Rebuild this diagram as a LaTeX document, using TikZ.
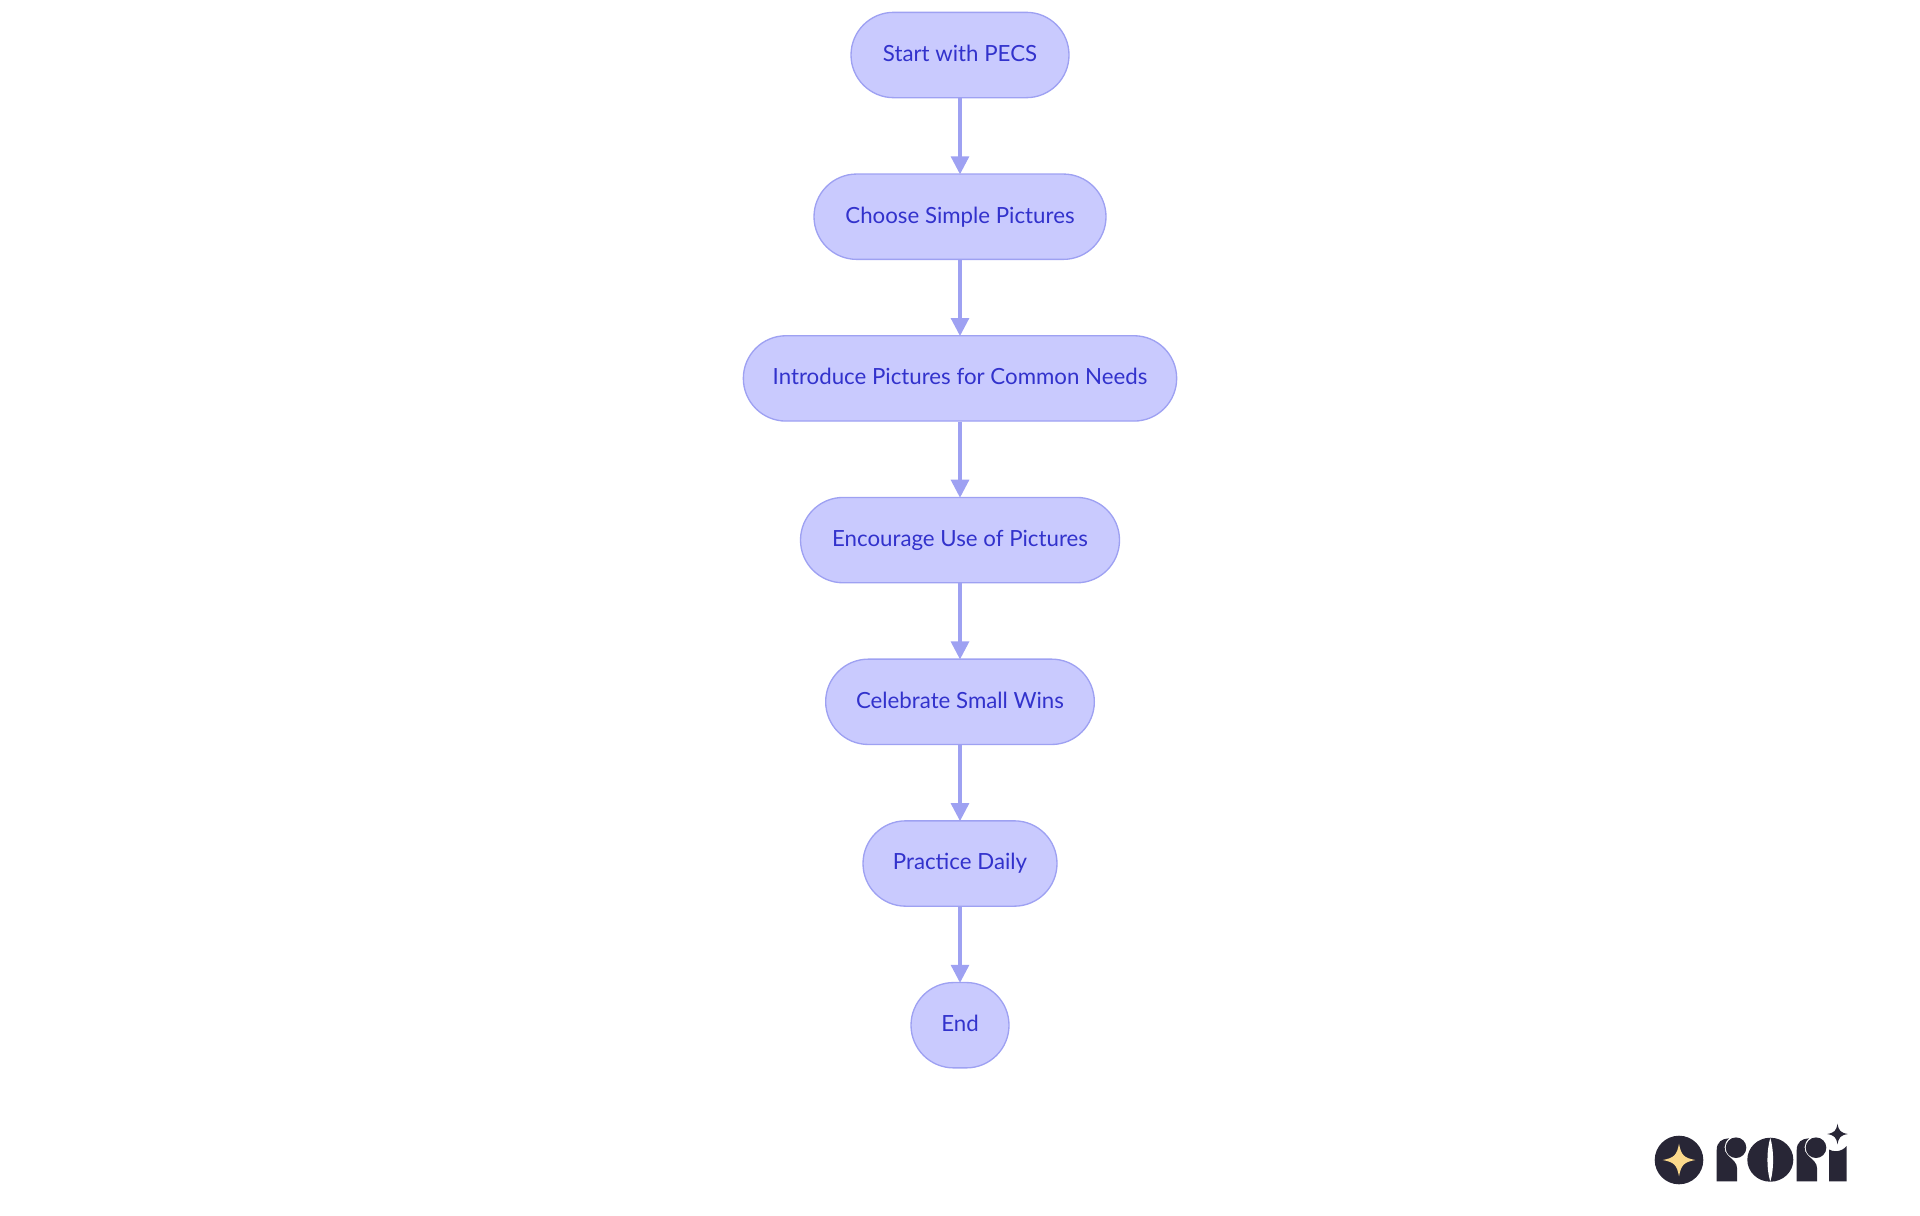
\documentclass[tikz,border=0pt]{standalone}
\usepackage{fontspec}
\setmainfont{Lato}
\usetikzlibrary{arrows.meta}
\definecolor{nodefill}{HTML}{C9CAFE}
\definecolor{nodeline}{HTML}{9EA1F2}
\definecolor{nodetext}{HTML}{3232CC}
\definecolor{logodark}{HTML}{282636}
\definecolor{logostar}{HTML}{FBD98B}
\tikzset{
  flownode/.style={draw=nodeline,fill=nodefill,text=nodetext,line width=1pt,rounded corners=32pt,
    minimum height=64pt,inner sep=0pt,text height=13.2pt,text depth=3.5pt,font=\fontsize{16.7}{20}\selectfont},
  flowarrow/.style={draw=nodeline,line width=2.3pt,-{Triangle[width=13.5pt,length=13.5pt,fill=nodeline]},shorten >=-0.7pt}
}
\newcommand{\fourstar}[4]{\fill[#4] (#1,#2-#3) .. controls (#1+0.13*#3,#2-0.3*#3) and (#1+0.3*#3,#2-0.13*#3) .. (#1+#3,#2) .. controls (#1+0.3*#3,#2+0.13*#3) and (#1+0.13*#3,#2+0.3*#3) .. (#1,#2+#3) .. controls (#1-0.13*#3,#2+0.3*#3) and (#1-0.3*#3,#2+0.13*#3) .. (#1-#3,#2) .. controls (#1-0.3*#3,#2-0.13*#3) and (#1-0.13*#3,#2-0.3*#3) .. (#1,#2-#3) -- cycle;}
\newcommand{\logor}[1]{
  \fill[logodark,shift={(#1,0)}] (1716.7,1181.3) -- (1716.7,1150) .. controls (1716.7,1142) and (1722,1138.5) .. (1729,1138.3) .. controls (1723.5,1143) and (1723,1151) .. (1728,1155.5) .. controls (1733,1160) and (1737,1163) .. (1737,1168) -- (1737,1181.3) -- cycle;
  \fill[logodark] (1736+#1,1147.7) circle (10.3);
}
\begin{document}
\begin{tikzpicture}[x=0.75pt,y=-0.75pt]
\useasboundingbox (0,0) rectangle (1920,1215);
\node[flownode,minimum width=163.5pt] (a) at (960,55) {Start with PECS};
\node[flownode,minimum width=219pt] (b) at (960,216.7) {Choose Simple Pictures};
\node[flownode,minimum width=325pt] (c) at (960,378.4) {Introduce Pictures for Common Needs};
\node[flownode,minimum width=239.25pt] (d) at (960,540.1) {Encourage Use of Pictures};
\node[flownode,minimum width=201.5pt] (e) at (960,701.8) {Celebrate Small Wins};
\node[flownode,minimum width=145.5pt] (f) at (960,863.5) {Practice Daily};
\node[flownode,minimum width=73.5pt] (g) at (960,1025.2) {End};
\draw[flowarrow] (a) -- (b);
\draw[flowarrow] (b) -- (c);
\draw[flowarrow] (c) -- (d);
\draw[flowarrow] (d) -- (e);
\draw[flowarrow] (e) -- (f);
\draw[flowarrow] (f) -- (g);
% logo
\fill[logodark] (1679,1160) circle (24.3);
\fourstar{1679}{1160}{16.3}{logostar}
\logor{0}
\logor{80}
\fill[logodark] (1770.3,1159.7) ellipse (23 and 22);
\fill[white] (1770.3,1138) .. controls (1766.5,1150) and (1766.5,1170) .. (1770.3,1181.5) .. controls (1774,1170) and (1774,1150) .. (1770.3,1138) -- cycle;
\fill[logodark] (1829,1181.3) -- (1829,1149.5) .. controls (1833,1152) and (1841,1152.5) .. (1846.7,1146) -- (1846.7,1181.3) -- cycle;
\fourstar{1837.5}{1134}{10.3}{logodark}
\end{tikzpicture}
\end{document}
